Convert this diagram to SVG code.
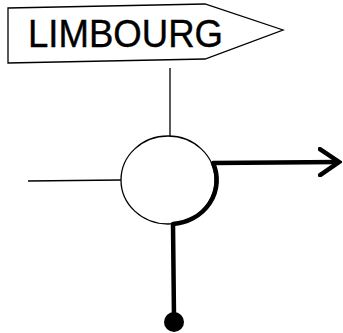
<svg xmlns="http://www.w3.org/2000/svg" width="343" height="333" viewBox="0 0 343 333">
<style>
.thin{fill:none;stroke:#000;stroke-width:1.3}
.thick{fill:none;stroke:#000;stroke-width:4.5;stroke-linejoin:round}
.lbl{font-family:"Liberation Sans",Arial,sans-serif;font-size:38px;fill:#000;stroke:#000;stroke-width:0.4}
</style>
<defs>
<marker id="chev" viewBox="0 0 24 30" refX="21" refY="15" markerWidth="24" markerHeight="30" markerUnits="userSpaceOnUse" orient="auto">
<path d="M2,2 L21,15 L2,28" fill="none" stroke="#000" stroke-width="4.5" stroke-linejoin="miter" stroke-linecap="round"/>
</marker>
</defs>
<rect width="343" height="333" fill="#fff"/>
<g id="connectors">
<line class="thin" x1="170" y1="68" x2="170" y2="136"/>
<line class="thin" x1="28" y1="181" x2="121" y2="180"/>
<path class="thick" d="M174,318 L173,224 A47 44 0 0 0 213,163 L339,162" marker-end="url(#chev)"/>
</g>
<g id="sign">
<polygon class="thin" points="8,8 205,4 283,30 205,59 8,63" fill="#fff"/>
<text class="lbl" x="28" y="47" textLength="195" lengthAdjust="spacingAndGlyphs">LIMBOURG</text>
</g>
<g id="junction">
<ellipse class="thin" cx="168" cy="180" rx="47" ry="44"/>
</g>
<g id="dot">
<circle cx="174" cy="322" r="10" fill="#000"/>
</g>
</svg>
